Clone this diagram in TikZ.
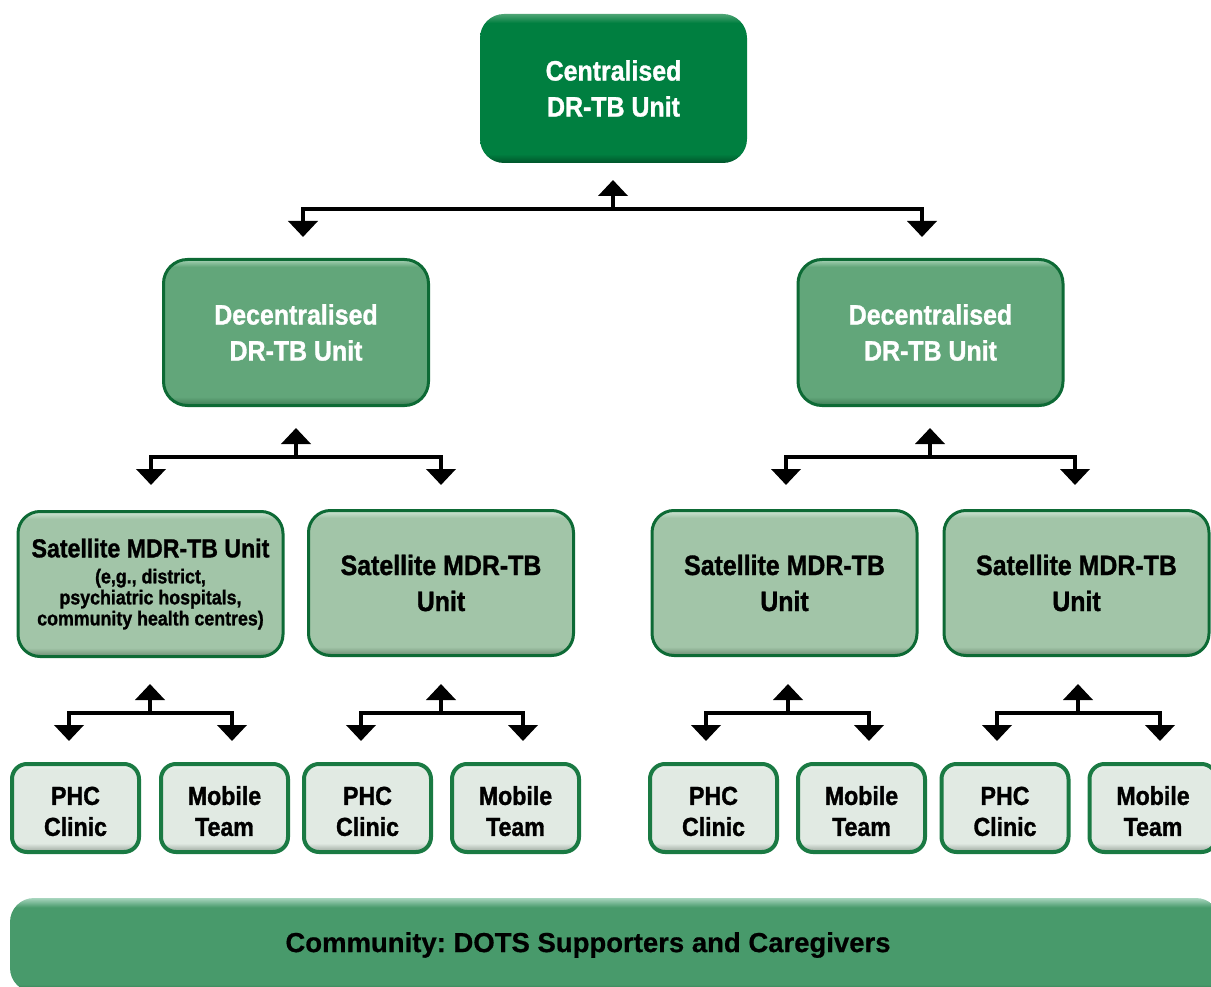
\documentclass[tikz,border=0pt]{standalone}
\usepackage{fontspec}
\setmainfont{Liberation Sans}[FakeBold=0.6]
\newfontfamily\condf{Liberation Sans}[FakeStretch=0.89,FakeBold=1.2]
\usetikzlibrary{arrows.meta}
\frenchspacing
\definecolor{cTopM}{HTML}{007F40}
\definecolor{cTopL}{HTML}{4FA475}
\definecolor{cTopD}{HTML}{00532A}
\definecolor{cDecM}{HTML}{62A67A}
\definecolor{cDecL}{HTML}{A8D2B6}
\definecolor{cDecD}{HTML}{3E7C55}
\definecolor{cSatM}{HTML}{A2C5A8}
\definecolor{cSatL}{HTML}{D2E8D8}
\definecolor{cSatD}{HTML}{6B8A71}
\definecolor{cBotM}{HTML}{E1EAE3}
\definecolor{cBotL}{HTML}{F2F7F3}
\definecolor{cBotD}{HTML}{9AA59C}
\definecolor{cComM}{HTML}{489A6B}
\definecolor{cComL}{HTML}{A7D5BE}
\definecolor{cComD}{HTML}{2A5F40}
\definecolor{cBord}{HTML}{0D6A35}
\definecolor{cBordB}{HTML}{1A7A43}
\pgfdeclareverticalshading{shTop}{100bp}{color(0bp)=(cTopD); color(25bp)=(cTopD); color(28bp)=(cTopM); color(72bp)=(cTopM); color(75bp)=(cTopL); color(100bp)=(cTopL)}
\pgfdeclareverticalshading{shDec}{100bp}{color(0bp)=(cDecD); color(25bp)=(cDecD); color(28bp)=(cDecM); color(72.5bp)=(cDecM); color(75bp)=(cDecL); color(100bp)=(cDecL)}
\pgfdeclareverticalshading{shSat}{100bp}{color(0bp)=(cSatD); color(25bp)=(cSatD); color(28bp)=(cSatM); color(72.5bp)=(cSatM); color(75bp)=(cSatL); color(100bp)=(cSatL)}
\pgfdeclareverticalshading{shBot}{100bp}{color(0bp)=(cBotD); color(25bp)=(cBotD); color(30bp)=(cBotM); color(72bp)=(cBotM); color(75bp)=(cBotL); color(100bp)=(cBotL)}
\pgfdeclareverticalshading{shCom}{100bp}{color(0bp)=(cComD); color(25bp)=(cComD); color(29bp)=(cComM); color(70bp)=(cComM); color(75bp)=(cComL); color(100bp)=(cComL)}
\tikzset{
  box/.style={rectangle, inner sep=0pt, align=center},
  topbox/.style={box, rounded corners=24pt, minimum width=267pt, minimum height=149pt,
    shading=shTop, text=white, font={\condf\bfseries\fontsize{28}{36}\selectfont}},
  decbox/.style={box, rounded corners=24pt, minimum width=265pt, minimum height=146pt,
    shading=shDec, draw=cBord, line width=3pt, text=white, font={\condf\bfseries\fontsize{28}{36}\selectfont}},
  satbox/.style={box, rounded corners=22pt, minimum width=265pt, minimum height=145pt,
    shading=shSat, draw=cBord, line width=3pt, text=black, font={\condf\bfseries\fontsize{28}{36}\selectfont}},
  botbox/.style={box, rounded corners=15pt, minimum width=127pt, minimum height=88pt,
    shading=shBot, draw=cBordB, line width=4pt, text=black, text height=56pt,
    font={\condf\bfseries\fontsize{26}{31}\selectfont}},
  combar/.style={box, rounded corners=24pt, minimum width=1210pt, minimum height=94pt,
    shading=shCom},
  comtext/.style={inner sep=0pt, text=black, font={\bfseries\fontsize{27.5}{30}\selectfont}},
  arr/.style={line width=4.5pt, -{Triangle[width=29pt,length=16pt]}},
  arr2/.style={line width=4.5pt, line join=miter, {Triangle[width=29pt,length=16pt]}-{Triangle[width=29pt,length=16pt]}}
}
\begin{document}
\begin{tikzpicture}[x=1pt,y=-1pt]
\useasboundingbox (0,0) rectangle (1211,987);
% top
\node[topbox] (top) at (613.5,88.5) {Centralised\\DR-TB Unit};
% decentralised
\node[decbox] (decL) at (296,332.5) {Decentralised\\DR-TB Unit};
\node[decbox] (decR) at (930.5,332.5) {Decentralised\\DR-TB Unit};
% satellites
\node[satbox, text width=265pt, align=flush center] (sat1) at (150.5,584)
  {{\fontsize{26}{30}\selectfont Satellite MDR-TB Unit\par}\vskip 5pt
   {\fontsize{20}{21}\selectfont (e,g., district,\\psychiatric hospitals,\\community health centres)\par}};
\node[satbox] (sat2) at (441,583) {Satellite MDR-TB\\Unit};
\node[satbox] (sat3) at (784.5,583) {Satellite MDR-TB\\Unit};
\node[satbox] (sat4) at (1076.5,583) {Satellite MDR-TB\\Unit};
% bottom row
\node[botbox] (phc1) at (75.5,808) {PHC\\Clinic};
\node[botbox] (mob1) at (224.5,808) {Mobile\\Team};
\node[botbox] (phc2) at (367.5,808) {PHC\\Clinic};
\node[botbox] (mob2) at (515.5,808) {Mobile\\Team};
\node[botbox] (phc3) at (713.5,808) {PHC\\Clinic};
\node[botbox] (mob3) at (861.5,808) {Mobile\\Team};
\node[botbox] (phc4) at (1005,808) {PHC\\Clinic};
\node[botbox] (mob4) at (1153,808) {Mobile\\Team};
% community
\node[combar] (com) at (615,945) {};
\node[comtext] (comt) at (588,945) {Community: DOTS Supporters and Caregivers};
% forks
\foreach \n/\cx/\hy/\lx/\rx in {a/613/209/303/922, b/296/457/151/441, c/930/457/786/1075,
    d/150/713/69/232, e/441/713/361/523, f/788/713/706/869, g/1078/713/997/1160}{
  \coordinate (j\n) at (\cx,\hy);
  \coordinate (u\n) at (\cx,\hy-29);
  \coordinate (l\n) at (\lx,\hy+28);
  \coordinate (r\n) at (\rx,\hy+28);
  \draw[arr] (j\n) -- (u\n);
  \draw[arr2] (l\n) |- (j\n) -| (r\n);
}
\end{tikzpicture}
\end{document}
